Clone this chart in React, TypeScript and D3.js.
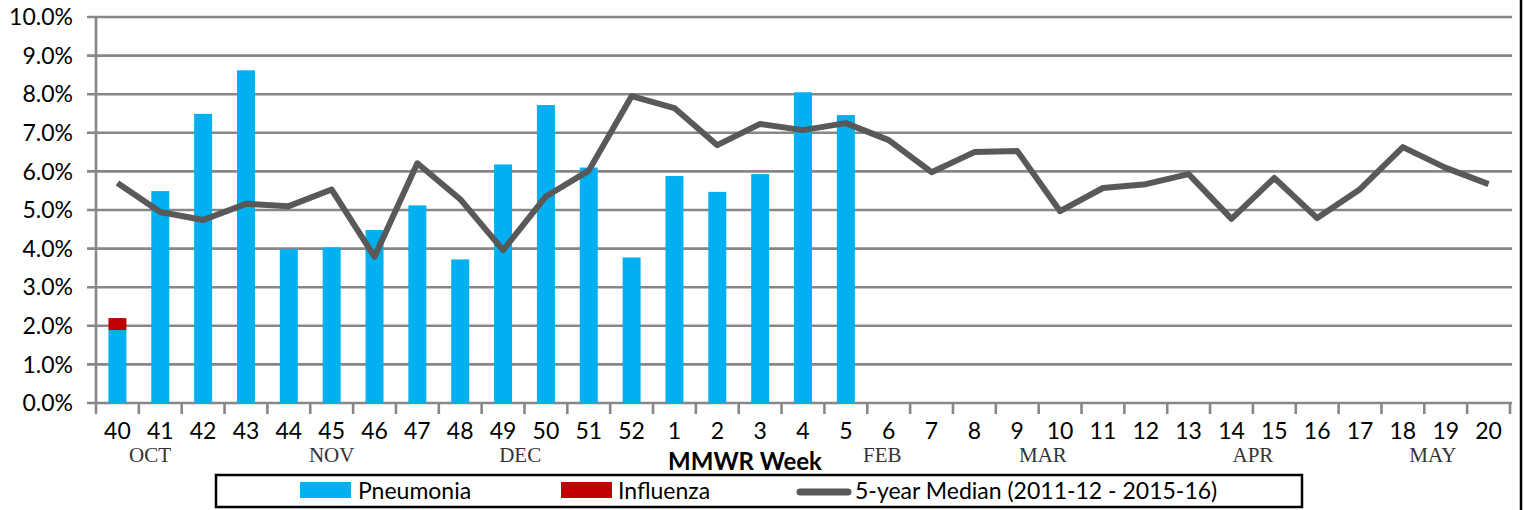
import * as d3 from "d3";

// MMWR weeks, season 2016-17 (week 40 .. week 20)
const weeks = ["40","41","42","43","44","45","46","47","48","49","50","51","52","1","2","3","4","5","6","7","8","9","10","11","12","13","14","15","16","17","18","19","20"];

// % of deaths
const pneumonia = [1.89,5.49,7.49,8.62,3.99,4.03,4.48,5.12,3.72,6.18,7.72,6.1,3.77,5.88,5.47,5.93,8.05,7.46];
const influenza = [0.31,0,0,0,0,0,0,0,0,0,0,0,0,0,0,0,0,0];
const median5yr = [5.7,4.95,4.74,5.16,5.1,5.53,3.79,6.21,5.28,3.96,5.35,6.02,7.95,7.64,6.68,7.23,7.07,7.25,6.81,5.98,6.5,6.53,4.97,5.57,5.67,5.93,4.77,5.83,4.79,5.54,6.63,6.09,5.67];

const yTicks = [0,1,2,3,4,5,6,7,8,9,10];

// month label, anchored between weeks (fractional week index)
const months = [
  { label: "OCT", at: 0.76 },
  { label: "NOV", at: 5 },
  { label: "DEC", at: 9.4 },
  { label: "FEB", at: 17.85 },
  { label: "MAR", at: 21.6 },
  { label: "APR", at: 26.5 },
  { label: "MAY", at: 30.7 },
];

const W = 1525;
const H = 510;
const left = 96, right = 1510, top = 17, bottom = 403;
const font = "Lato, 'Liberation Sans', sans-serif";
const fs = 23;

export default function App() {
  const x = d3.scaleBand<string>().domain(weeks).range([left, right]);
  const y = d3.scaleLinear().domain([0, 10]).range([bottom, top]);
  const bw = x.bandwidth() * 0.42;
  const cx = (i: number) => left + x.step() * (i + 0.5);

  const line = d3.line<number>()
    .x((_, i) => cx(i))
    .y(d => y(d));

  return (
    <svg width={W} height={H} style={{ position: "absolute", left: 0, top: 0, background: "#fff" }}>
      {/* gridlines + y labels */}
      {yTicks.map(t => (
        <g key={t}>
          <line x1={left - 9} x2={right + 2} y1={y(t)} y2={y(t)} stroke="#878787" strokeWidth={2.6} />
          <text x={73} y={y(t)} dy="0.36em" textAnchor="end" fontFamily={font} fontSize={fs} fill="#000">
            {t.toFixed(1)}%
          </text>
        </g>
      ))}
      {/* y axis */}
      <line x1={left} x2={left} y1={top} y2={bottom + 11} stroke="#878787" strokeWidth={2.6} />
      {/* x ticks */}
      {weeks.map((w, i) => (
        <line key={"t" + w} x1={left + x.step() * (i + 1)} x2={left + x.step() * (i + 1)}
          y1={bottom} y2={bottom + 11} stroke="#878787" strokeWidth={2.6} />
      ))}
      {/* bars */}
      {pneumonia.map((v, i) => (
        <g key={"b" + i}>
          <rect x={cx(i) - bw / 2} width={bw} y={y(v)} height={y(0) - y(v)} fill="#00B0F0" />
          {influenza[i] > 0 && (
            <rect x={cx(i) - bw / 2} width={bw} y={y(v + influenza[i])}
              height={y(v) - y(v + influenza[i])} fill="#C00000" />
          )}
        </g>
      ))}
      {/* 5-year median */}
      <path d={line(median5yr) || ""} fill="none" stroke="#595959" strokeWidth={6} strokeLinejoin="round" />
      {/* x labels */}
      {weeks.map((w, i) => (
        <text key={"l" + w} x={cx(i)} y={431} dy="0.36em" textAnchor="middle" fontFamily={font} fontSize={fs}>
          {w}
        </text>
      ))}
      {months.map(m => (
        <text key={m.label} x={cx(m.at)} y={455} dy="0.35em" textAnchor="middle"
          fontFamily="'Liberation Serif', 'DejaVu Serif', serif" fontSize={21} fill="#333">
          {m.label}
        </text>
      ))}
      <text x={745} y={461} dy="0.36em" textAnchor="middle" fontFamily={font} fontWeight="bold" fontSize={24}>
        MMWR Week
      </text>
      {/* right frame edge */}
      <line x1={1521} x2={1521} y1={0} y2={H} stroke="#000" strokeWidth={2.5} />
      {/* legend */}
      <rect x={216} y={475} width={1086} height={32} fill="#fff" stroke="#000" strokeWidth={2.5} />
      <rect x={300} y={482} width={51} height={16} fill="#00B0F0" />
      <text x={358} y={491} dy="0.36em" fontFamily={font} fontSize={fs}>Pneumonia</text>
      <rect x={561} y={482} width={51} height={16} fill="#C00000" />
      <text x={618} y={491} dy="0.36em" fontFamily={font} fontSize={fs}>Influenza</text>
      <line x1={800} x2={848} y1={492} y2={492} stroke="#595959" strokeWidth={7} strokeLinecap="round" />
      <text x={855} y={491} dy="0.36em" fontFamily={font} fontSize={fs}>5-year Median (2011-12 - 2015-16)</text>
    </svg>
  );
}
